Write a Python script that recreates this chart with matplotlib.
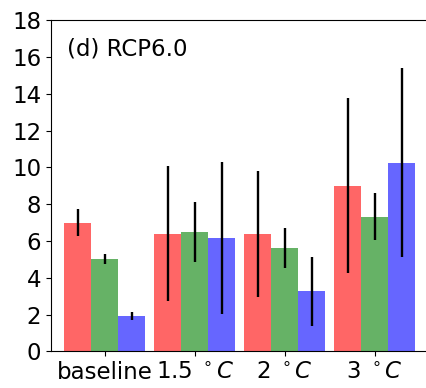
import numpy as np
import matplotlib
matplotlib.use("Agg")
import matplotlib.pyplot as plt

groups = ['baseline', r'1.5 $^\circ C$', r'2 $^\circ C$', r'3 $^\circ C$']

# bar heights per series
red_vals = [7.0, 6.36, 6.38, 9.0]
green_vals = [5.0, 6.49, 5.63, 7.32]
blue_vals = [1.92, 6.14, 3.26, 10.26]

# error bar ends (low, high)
red_low = [6.25, 2.72, 2.94, 4.24]
red_high = [7.74, 10.07, 9.8, 13.76]
green_low = [4.76, 4.86, 4.55, 6.04]
green_high = [5.27, 8.12, 6.72, 8.63]
blue_low = [1.72, 2.03, 1.39, 5.15]
blue_high = [2.15, 10.28, 5.15, 15.39]

fig = plt.figure(figsize=(4.26, 3.88), dpi=100)
ax = fig.add_axes([0.1197, 0.0946, 0.887, 0.8528])

x = np.arange(len(groups))
w = 0.3
series = [
    (red_vals, red_low, red_high, 'red', -w),
    (green_vals, green_low, green_high, 'green', 0),
    (blue_vals, blue_low, blue_high, 'blue', w),
]
for vals, lo, hi, col, off in series:
    vals = np.array(vals)
    err = [vals - np.array(lo), np.array(hi) - vals]
    ax.bar(x + off, vals, w, color=col, alpha=0.6, yerr=err,
           error_kw=dict(ecolor='black', elinewidth=1.7, capsize=0))

ax.set_xlim(-0.6, 3.6)
ax.set_ylim(0, 18)
ax.set_yticks(np.arange(0, 19, 2))
ax.set_xticks(x)
ax.set_xticklabels(groups)
ax.tick_params(labelsize=16.5)
ax.text(0.0415, 0.895, '(d) RCP6.0', transform=ax.transAxes,
        fontsize=16.5, va='baseline', ha='left')

fig.savefig('out.png', dpi=100)
